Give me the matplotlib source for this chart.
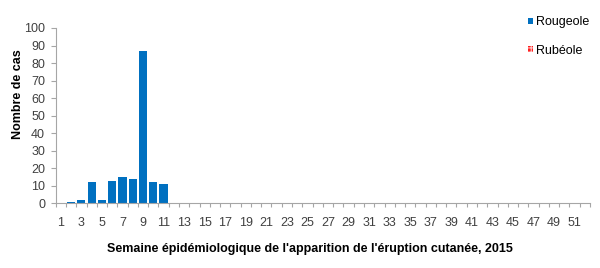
import matplotlib
matplotlib.use("Agg")
import matplotlib.pyplot as plt
import numpy as np

# weekly counts, weeks 1..52 of 2015
weeks = list(range(1, 53))
rougeole = [0, 1, 2, 12, 2, 13, 15, 14, 87, 12, 11] + [0] * 41
rubeole = [0] * 52
tick_labels = [str(w) for w in weeks if w % 2 == 1]

plt.rcParams['font.family'] = ['Liberation Sans', 'DejaVu Sans']
plt.rcParams['hatch.linewidth'] = 0.8

W, H = 600, 268
fig = plt.figure(figsize=(W / 100, H / 100), dpi=100)
# axes box in pixels: x 55.7..590, y 28..203.3
ax = fig.add_axes([55.7 / W, 1 - 203.3 / H, (590 - 55.7) / W, (203.3 - 28) / H])

b1 = ax.bar(weeks, rougeole, width=0.8, color='#0070C0', linewidth=0, label='Rougeole')
b2 = ax.bar(weeks, rubeole, width=0.8, facecolor='#FF2020', edgecolor='#FFC8C8',
            hatch='++++', linewidth=0, label='Rubéole')

ax.set_xlim(0.5, 52.5)
ax.set_ylim(0, 100)
ax.set_yticks(np.arange(0, 101, 10))

ax.set_xticks([w for w in weeks if w % 2 == 1])
ax.set_xticklabels(tick_labels)
ax.set_xticks(np.arange(0.5, 53, 1), minor=True)
ax.tick_params(axis='x', which='major', length=0, pad=10, labelsize=9, labelcolor='#404040')
ax.tick_params(axis='x', which='minor', length=2.6, width=0.8, color='#A6A6A6', direction='out')
ax.tick_params(axis='y', length=3.6, width=0.8, color='#A6A6A6', pad=4, labelsize=9,
               labelcolor='#404040')

for side in ['top', 'right']:
    ax.spines[side].set_visible(False)
for side in ['left', 'bottom']:
    ax.spines[side].set_color('#A6A6A6')
    ax.spines[side].set_linewidth(0.8)

fig.text(18 / W, 1 - 94 / H, 'Nombre de cas', rotation=90, ha='center', va='center',
         fontsize=9, fontweight='bold')
fig.text(310 / W, 1 - 251.7 / H,
         "Semaine épidémiologique de l'apparition de l'éruption cutanée, 2015",
         ha='center', va='baseline', fontsize=9, fontweight='bold')

leg = fig.legend(handles=[b1, b2], loc='upper left', bbox_to_anchor=(528.3 / W, 1 - 16.5 / H),
                 frameon=False, fontsize=9, handlelength=0.34, handleheight=0.34,
                 handletextpad=0.28, labelspacing=1.29, borderaxespad=0, borderpad=0)

fig.savefig('out.png', dpi=100)
